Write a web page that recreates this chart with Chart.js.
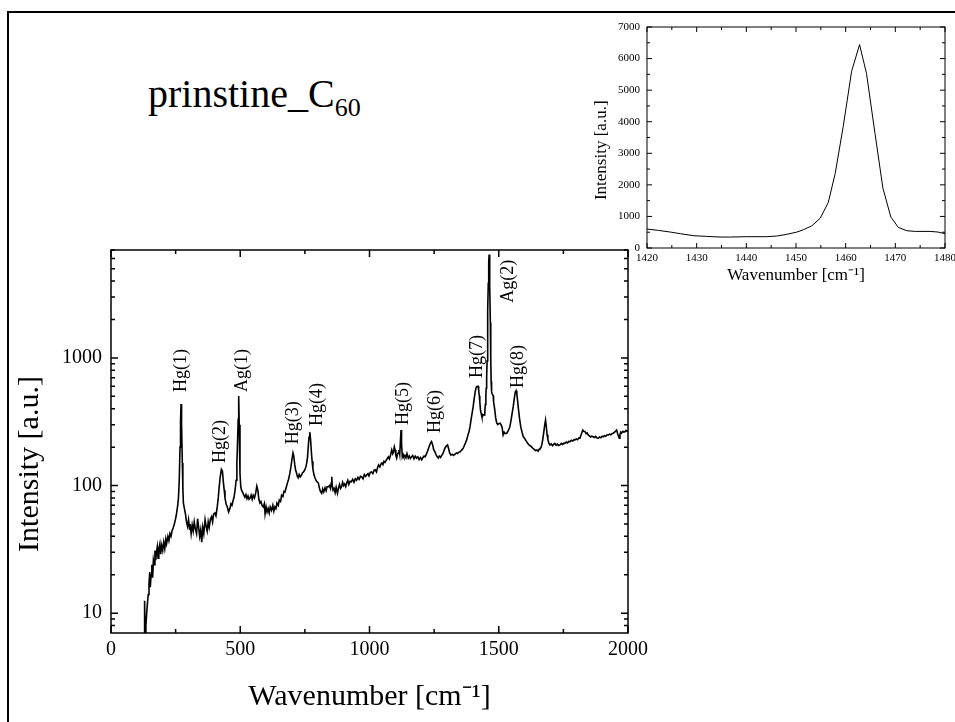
<!DOCTYPE html>
<html>
<head>
<meta charset="utf-8">
<script src="https://cdn.jsdelivr.net/npm/chart.js@4.4.1/dist/chart.umd.min.js"></script>
<style>
	html, body { margin: 0; padding: 0; background: #fff; overflow: hidden; }
	#frame { position: absolute; left: 7px; top: 11px; width: 2000px; height: 2000px; border-top: 2px solid #000; border-left: 2px solid #000; }
	#title { position: absolute; left: 148px; top: 74px; font: 40px/40px "Liberation Serif", "Times New Roman", serif; color: #000; white-space: nowrap; }
	#title sub { font-size: 26px; vertical-align: baseline; position: relative; top: 9px; }
	#mainBox { position: absolute; left: 0; top: 0; width: 955px; height: 722px; }
	#insetBox { position: absolute; left: 560px; top: 0; width: 400px; height: 300px; }
</style>
</head>
<body>
<div id="frame"></div>
<div id="title">prinstine_C<sub>60</sub></div>
<div id="mainBox"><canvas id="mainChart"></canvas></div>
<div id="insetBox"><canvas id="insetChart"></canvas></div>
<script>
(function() {
	'use strict';

	// Raman spectrum, wavenumber [cm-1] / intensity [a.u.]
	const mainWavenumber = [
		128, 130, 132, 135, 138, 141, 144, 147, 150, 152, 155, 158, 161, 164, 167, 170, 173, 176, 179, 182,
		185, 189, 192, 196, 200, 204, 208, 212, 215, 220, 224, 228, 232, 236, 241, 245, 250, 254, 258, 261,
		264, 267, 269, 271, 273, 276, 278, 280, 284, 288, 292, 296, 300, 304, 306, 310, 314, 318, 322, 326,
		331, 335, 339, 343, 347, 351, 355, 359, 364, 368, 372, 376, 380, 385, 389, 393, 397, 402, 406, 411,
		415, 418, 422, 427, 431, 435, 438, 441, 445, 450, 455, 460, 464, 468, 472, 476, 480, 484, 487, 489,
		492, 494, 496, 499, 502, 505, 510, 514, 518, 522, 526, 530, 534, 538, 542, 546, 550, 555, 560, 564,
		568, 572, 576, 580, 584, 589, 593, 596, 600, 604, 608, 612, 616, 621, 626, 630, 634, 638, 642, 647,
		651, 656, 660, 665, 669, 673, 678, 682, 687, 692, 696, 700, 704, 707, 711, 714, 718, 721, 724, 728,
		732, 737, 741, 745, 750, 754, 757, 760, 763, 766, 769, 772, 775, 778, 781, 785, 789, 793, 797, 802,
		806, 810, 815, 819, 823, 828, 832, 836, 841, 845, 849, 852, 854, 856, 859, 863, 867, 871, 876, 880,
		884, 888, 892, 896, 900, 904, 908, 912, 916, 920, 925, 930, 935, 940, 945, 950, 955, 960, 965, 970,
		975, 980, 985, 989, 994, 998, 1003, 1008, 1013, 1018, 1022, 1027, 1031, 1035, 1040, 1044, 1048, 1052, 1056, 1060,
		1065, 1069, 1073, 1077, 1081, 1086, 1090, 1093, 1096, 1099, 1102, 1105, 1108, 1111, 1114, 1117, 1120, 1122, 1124, 1127,
		1130, 1133, 1137, 1141, 1145, 1150, 1154, 1158, 1163, 1167, 1172, 1177, 1182, 1187, 1192, 1197, 1202, 1206, 1211, 1215,
		1220, 1224, 1228, 1232, 1236, 1240, 1244, 1248, 1253, 1257, 1262, 1266, 1270, 1275, 1279, 1283, 1287, 1292, 1297, 1302,
		1306, 1310, 1315, 1320, 1325, 1331, 1336, 1341, 1345, 1350, 1355, 1359, 1363, 1367, 1371, 1376, 1380, 1385, 1389, 1393,
		1397, 1401, 1405, 1409, 1413, 1416, 1420, 1422.3, 1424.7, 1426.7, 1429.4, 1432, 1434.7, 1436.8, 1440.1, 1444.1, 1446.1, 1448.1, 1450.2, 1451.5,
		1453.2, 1454.9, 1456.5, 1457.9, 1459.5, 1461.2, 1462.8, 1464.2, 1465.9, 1467.5, 1469.1, 1470.6, 1472.3, 1474, 1477, 1478.6, 1480, 1484, 1488, 1492,
		1496, 1500, 1505, 1509, 1513, 1517, 1521, 1525, 1531, 1535, 1539, 1543, 1547, 1551, 1556, 1560, 1564, 1567, 1570, 1573,
		1576, 1580, 1585, 1590, 1595, 1600, 1604, 1608, 1612, 1617, 1622, 1627, 1632, 1637, 1642, 1647, 1652, 1656, 1659, 1663,
		1667, 1670, 1674, 1678, 1681, 1684, 1687, 1690, 1694, 1698, 1703, 1708, 1712, 1717, 1722, 1727, 1732, 1737, 1742, 1747,
		1752, 1756, 1761, 1766, 1771, 1776, 1781, 1786, 1791, 1795, 1800, 1805, 1810, 1814, 1818, 1822, 1825, 1829, 1834, 1838,
		1842, 1846, 1850, 1855, 1860, 1865, 1870, 1875, 1880, 1885, 1890, 1895, 1900, 1904, 1909, 1914, 1919, 1924, 1929, 1934,
		1939, 1943, 1948, 1953, 1956, 1960, 1963, 1966, 1969, 1972, 1975, 1980, 1984, 1988, 1992, 1996, 2000
	];
	const mainIntensity = [
		5, 12.5, 6, 8, 10, 12, 14, 17, 21, 16, 20, 24, 19, 26, 24, 31, 26, 30, 33, 27,
		32, 35, 29, 34, 31, 36, 32, 38, 35, 40, 37, 42, 40, 44, 47, 50, 55, 61, 70, 80,
		110, 200, 320, 436, 300, 150, 95, 73, 66, 60, 52, 48, 54, 45, 50, 42, 49, 44, 52, 46,
		42, 55, 47, 40, 45, 36, 47, 42, 54, 48, 44, 52, 47, 55, 57, 52, 60, 61, 58, 68,
		80, 95, 115, 134, 130, 105, 92, 80, 72, 68, 62, 66, 72, 70, 76, 81, 92, 110, 150, 200,
		330, 503, 300, 125, 98, 92, 88, 84, 81, 85, 79, 83, 78, 80, 84, 78, 84, 80, 88, 99,
		92, 78, 73, 75, 70, 68, 72, 60, 68, 62, 66, 61, 68, 64, 70, 63, 68, 66, 73, 70,
		77, 75, 84, 82, 90, 89, 97, 104, 112, 125, 140, 160, 180, 170, 145, 133, 125, 118, 115, 122,
		117, 121, 126, 128, 133, 140, 150, 165, 200, 240, 262, 230, 185, 155, 135, 122, 115, 110, 107, 105,
		96, 90, 87, 94, 89, 96, 91, 98, 98, 100, 95, 105, 117, 100, 92, 95, 88, 97, 87, 96,
		102, 95, 98, 106, 100, 103, 98, 105, 110, 102, 108, 107, 112, 106, 113, 110, 116, 112, 118, 117,
		113, 122, 118, 121, 124, 119, 127, 128, 124, 132, 133, 128, 138, 145, 140, 147, 150, 146, 155, 152,
		158, 163, 168, 162, 172, 190, 178, 185, 201, 190, 172, 164, 175, 180, 190, 175, 230, 272, 210, 168,
		175, 168, 172, 165, 178, 164, 170, 163, 168, 172, 162, 170, 164, 168, 160, 166, 159, 165, 170, 168,
		176, 185, 195, 205, 215, 221, 210, 192, 184, 175, 168, 164, 170, 166, 172, 176, 185, 197, 204, 208,
		195, 180, 173, 176, 172, 176, 180, 178, 182, 184, 188, 192, 197, 206, 215, 228, 245, 265, 289, 330,
		370, 415, 480, 545, 590, 596, 600, 558, 505, 453, 389, 368, 347, 347, 358, 358, 379, 432, 505, 579,
		705, 947, 1442, 2368, 3842, 5600, 6442, 5526, 3632, 1895, 979, 653, 547, 526, 526, 505, 453, 400, 340, 309,
		300, 305, 308, 300, 285, 249, 262, 255, 257, 265, 275, 289, 320, 360, 415, 480, 540, 554, 520, 460,
		400, 340, 289, 262, 241, 235, 226, 221, 214, 208, 205, 201, 196, 192, 188, 190, 186, 192, 195, 198,
		210, 228, 260, 300, 326, 290, 250, 230, 215, 208, 212, 205, 210, 214, 207, 211, 206, 208, 214, 210,
		215, 214, 219, 216, 222, 221, 226, 223, 229, 228, 232, 229, 236, 235, 248, 262, 272, 266, 264, 255,
		258, 249, 246, 240, 244, 241, 238, 243, 236, 235, 240, 237, 243, 241, 246, 243, 250, 249, 253, 250,
		256, 257, 262, 268, 272, 255, 245, 235, 252, 262, 257, 266, 262, 264, 270, 266, 272
	];

	// Inset: Ag(2) band on a linear scale
	const insetWavenumber = [
		1420, 1422.3, 1424.7, 1426.7, 1429.4, 1432, 1434.7, 1436.8, 1440.1, 1444.1, 1446.1, 1448.1, 1450.2, 1451.5,
		1453.2, 1454.9, 1456.5, 1457.9, 1459.5, 1461.2, 1462.8, 1464.2, 1465.9, 1467.5, 1469.1, 1470.6, 1472.3, 1474,
		1477, 1478.6, 1480
	];
	const insetIntensity = [
		600, 558, 505, 453, 389, 368, 347, 347, 358, 358, 379, 432, 505, 579,
		705, 947, 1442, 2368, 3842, 5600, 6442, 5526, 3632, 1895, 979, 653, 547, 526,
		526, 505, 453
	];

	// Peak assignments: name, wavenumber, intensity at the lower end of the label
	const peakNames = ['Hg(1)', 'Hg(2)', 'Ag(1)', 'Hg(3)', 'Hg(4)', 'Hg(5)', 'Hg(6)', 'Hg(7)', 'Ag(2)', 'Hg(8)'];
	const peakPos = [273, 422, 506, 704, 797, 1130, 1253, 1416, 1536, 1574];
	const peakLabelAt = [541, 150, 541, 211, 293, 298, 258, 697, 2698, 582];

	// Tick values
	const mainXMajor = [0, 500, 1000, 1500, 2000];
	const mainXMinor = [250, 750, 1250, 1750];
	const mainYMajor = [10, 100, 1000];
	const mainYMinor = [8, 9, 20, 30, 40, 50, 60, 70, 80, 90, 200, 300, 400, 500, 600, 700, 800, 900, 2000, 3000, 4000, 5000, 6000, 7000];
	const insetXMajor = [1420, 1430, 1440, 1450, 1460, 1470, 1480];
	const insetXMinor = [1425, 1435, 1445, 1455, 1465, 1475];
	const insetYMajor = [0, 1000, 2000, 3000, 4000, 5000, 6000, 7000];
	const insetYMinor = [500, 1500, 2500, 3500, 4500, 5500, 6500];

	const SERIF = '"Liberation Serif", "Times New Roman", serif';
	Chart.defaults.font.family = SERIF;
	Chart.defaults.color = '#000';

	/**
	 * Box around the plot area with inward ticks on all four sides.
	 */
	const frameTicks = {
		id: 'frameTicks',
		afterDatasetsDraw(chart, args, opts) {
			const ctx = chart.ctx;
			const a = chart.chartArea;
			const xs = chart.scales.x;
			const ys = chart.scales.y;

			ctx.save();
			ctx.strokeStyle = '#000';
			ctx.lineWidth = opts.lineWidth;
			ctx.strokeRect(a.left, a.top, a.right - a.left, a.bottom - a.top);

			ctx.beginPath();
			function xMarks(vals, len) {
				vals.forEach(function(v) {
					const px = xs.getPixelForValue(v);
					ctx.moveTo(px, a.bottom);
					ctx.lineTo(px, a.bottom - len);
					ctx.moveTo(px, a.top);
					ctx.lineTo(px, a.top + len);
				});
			}
			function yMarks(vals, len) {
				vals.forEach(function(v) {
					const py = ys.getPixelForValue(v);
					ctx.moveTo(a.left, py);
					ctx.lineTo(a.left + len, py);
					ctx.moveTo(a.right, py);
					ctx.lineTo(a.right - len, py);
				});
			}
			xMarks(opts.xMajor, opts.major);
			xMarks(opts.xMinor, opts.minor);
			yMarks(opts.yMajor, opts.major);
			yMarks(opts.yMinor, opts.minor);
			ctx.stroke();
			ctx.restore();
		}
	};

	/**
	 * Vertical peak names placed in data coordinates.
	 */
	const peakLabels = {
		id: 'peakLabels',
		afterDatasetsDraw(chart, args, opts) {
			if (!opts.names) {
				return;
			}
			const ctx = chart.ctx;
			ctx.save();
			ctx.fillStyle = '#000';
			ctx.font = opts.size + 'px ' + SERIF;
			ctx.textAlign = 'left';
			ctx.textBaseline = 'middle';
			opts.names.forEach(function(name, i) {
				const px = chart.scales.x.getPixelForValue(opts.pos[i]);
				const py = chart.scales.y.getPixelForValue(opts.at[i]);
				ctx.save();
				ctx.translate(px, py);
				ctx.rotate(-Math.PI / 2);
				ctx.fillText(name, 0, 0);
				ctx.restore();
			});
			ctx.restore();
		}
	};

	function toPoints(xs, ys) {
		return xs.map(function(x, i) {
			return { x: x, y: ys[i] };
		});
	}

	function plainNumber(value) {
		return String(value);
	}

	// Main spectrum, log intensity axis
	new Chart(document.getElementById('mainChart'), {
		type: 'scatter',
		data: {
			datasets: [{
				data: toPoints(mainWavenumber, mainIntensity),
				showLine: true,
				borderColor: '#000',
				borderWidth: 1.6,
				pointRadius: 0,
				tension: 0,
				clip: 0
			}]
		},
		plugins: [frameTicks, peakLabels],
		options: {
			responsive: true,
			maintainAspectRatio: false,
			animation: false,
			events: [],
			layout: { padding: { left: 0, top: 250, right: 327, bottom: 0 } },
			plugins: {
				legend: { display: false },
				tooltip: { enabled: false },
				frameTicks: {
					lineWidth: 1.5, major: 7, minor: 4,
					xMajor: mainXMajor, xMinor: mainXMinor, yMajor: mainYMajor, yMinor: mainYMinor
				},
				peakLabels: { names: peakNames, pos: peakPos, at: peakLabelAt, size: 18 }
			},
			scales: {
				x: {
					type: 'linear',
					min: 0,
					max: 2000,
					afterFit: function(scale) { scale.height = 89; },
					afterBuildTicks: function(scale) {
						scale.ticks = mainXMajor.map(function(v) { return { value: v }; });
					},
					ticks: { font: { size: 20 }, padding: 5, maxRotation: 0, autoSkip: false, callback: plainNumber },
					grid: { display: false, drawTicks: false },
					border: { display: false },
					title: {
						display: true,
						text: 'Wavenumber [cm⁻¹]',
						font: { size: 30 },
						padding: { top: 0, bottom: 7 }
					}
				},
				y: {
					type: 'logarithmic',
					min: 7,
					max: 7000,
					afterFit: function(scale) { scale.width = 111; },
					afterBuildTicks: function(scale) {
						scale.ticks = mainYMajor.map(function(v) { return { value: v }; });
					},
					ticks: { font: { size: 20 }, padding: 9, autoSkip: false, callback: plainNumber },
					grid: { display: false, drawTicks: false },
					border: { display: false },
					title: {
						display: true,
						// trailing em/en spaces push the label a little below the axis centre, as in the original
						text: 'Intensity [a.u.]\u2003\u2002',
						font: { size: 30 },
						padding: { top: 12, bottom: 0 }
					}
				}
			}
		}
	});

	// Inset, linear intensity axis
	new Chart(document.getElementById('insetChart'), {
		type: 'scatter',
		data: {
			datasets: [{
				data: toPoints(insetWavenumber, insetIntensity),
				showLine: true,
				borderColor: '#000',
				borderWidth: 1,
				pointRadius: 0,
				tension: 0,
				clip: 0
			}]
		},
		plugins: [frameTicks],
		options: {
			responsive: true,
			maintainAspectRatio: false,
			animation: false,
			events: [],
			layout: { padding: { left: 0, top: 27, right: 15, bottom: 0 } },
			plugins: {
				legend: { display: false },
				tooltip: { enabled: false },
				frameTicks: {
					lineWidth: 1, major: 5, minor: 3,
					xMajor: insetXMajor, xMinor: insetXMinor, yMajor: insetYMajor, yMinor: insetYMinor
				}
			},
			scales: {
				x: {
					type: 'linear',
					min: 1420,
					max: 1480,
					afterFit: function(scale) { scale.height = 52; },
					afterBuildTicks: function(scale) {
						scale.ticks = insetXMajor.map(function(v) { return { value: v }; });
					},
					ticks: { font: { size: 11 }, padding: 4, maxRotation: 0, autoSkip: false, callback: plainNumber },
					grid: { display: false, drawTicks: false },
					border: { display: false },
					title: {
						display: true,
						text: 'Wavenumber [cm⁻¹]',
						font: { size: 17 },
						padding: { top: 0, bottom: 14 }
					}
				},
				y: {
					type: 'linear',
					min: 0,
					max: 7000,
					afterFit: function(scale) { scale.width = 87; },
					afterBuildTicks: function(scale) {
						scale.ticks = insetYMajor.map(function(v) { return { value: v }; });
					},
					ticks: { font: { size: 11 }, padding: 7, autoSkip: false, callback: plainNumber },
					grid: { display: false, drawTicks: false },
					border: { display: false },
					title: {
						display: true,
						text: 'Intensity [a.u.]\u2003\u2002',
						font: { size: 17 },
						padding: { top: 31, bottom: 0 }
					}
				}
			}
		}
	});
})();
</script>
</body>
</html>
